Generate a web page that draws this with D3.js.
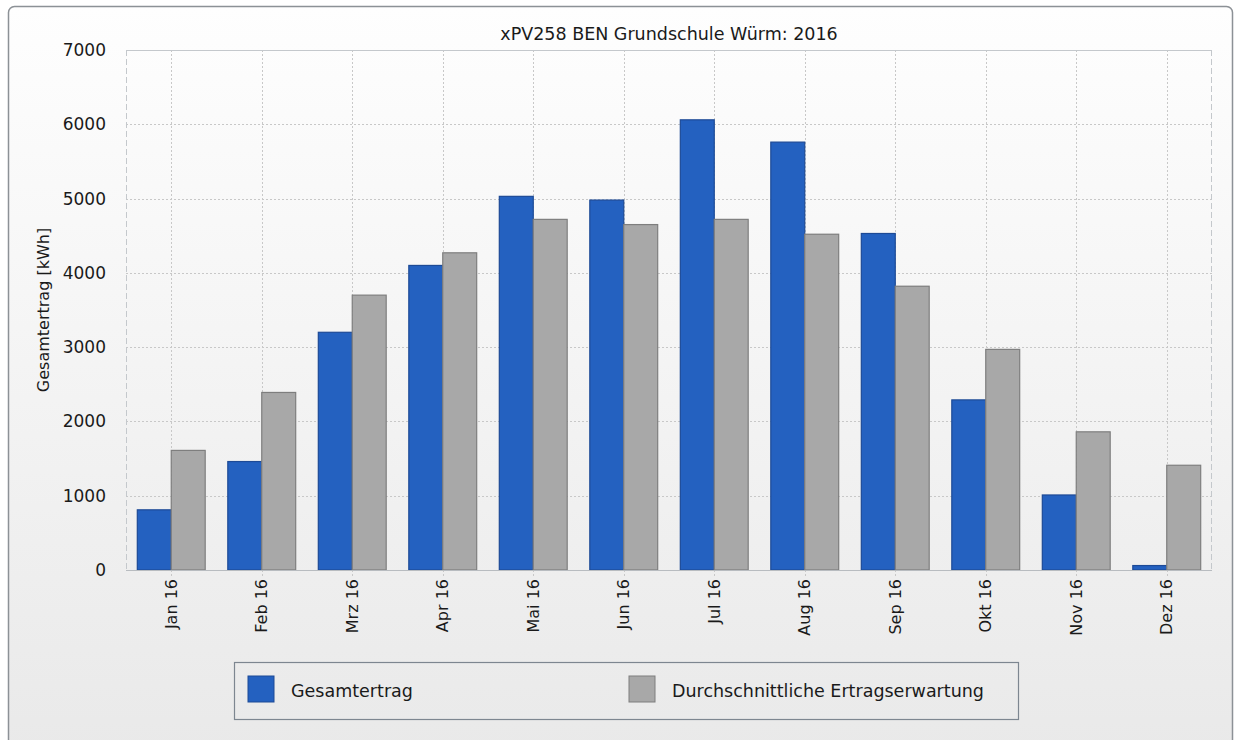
<!DOCTYPE html>
<html>
<head>
<meta charset="utf-8">
<title>xPV258 BEN Grundschule Würm: 2016</title>
<script src="https://d3js.org/d3.v7.min.js" charset="utf-8"></script>
<style type="text/css">
    body { margin: 0; background: #fff; }
    svg text { font-family: "DejaVu Sans", sans-serif; fill: #1a1a1a; }
    .grid line { stroke: #c8c8c8; stroke-dasharray: 1.5, 2.5; shape-rendering: crispEdges; }
    .axis path, .axis line { display: none; }
</style>
</head>
<body>
<script type="text/javascript">
    // monthly data
    var months = ["Jan 16", "Feb 16", "Mrz 16", "Apr 16", "Mai 16", "Jun 16",
                  "Jul 16", "Aug 16", "Sep 16", "Okt 16", "Nov 16", "Dez 16"];
    var gesamtertrag = [810, 1460, 3200, 4100, 5030, 4980, 6060, 5760, 4530, 2290, 1010, 60];
    var erwartung = [1610, 2390, 3700, 4270, 4720, 4650, 4720, 4520, 3820, 2970, 1860, 1410];
    var seriesNames = ["Gesamtertrag", "Durchschnittliche Ertragserwartung"];
    var yTicks = [0, 1000, 2000, 3000, 4000, 5000, 6000, 7000];

    var W = 1235, H = 740;
    var margin = { top: 50, right: 23, bottom: 170, left: 126 },
        width = W - margin.left - margin.right,
        height = H - margin.top - margin.bottom;

    var svg = d3.select("body").append("svg")
        .attr("width", W)
        .attr("height", H);

    var defs = svg.append("defs");
    var bg = defs.append("linearGradient")
        .attr("id", "bgGrad")
        .attr("x1", "0%").attr("x2", "0%")
        .attr("y1", "0%").attr("y2", "100%");
    bg.append("stop").attr("offset", "0%").attr("stop-color", "#fefefe");
    bg.append("stop").attr("offset", "100%").attr("stop-color", "#e9e9e9");

    // outer panel
    svg.append("rect")
        .attr("x", 8.5).attr("y", 6.5)
        .attr("width", 1224).attr("height", 750)
        .attr("rx", 6).attr("ry", 6)
        .style("fill", "url(#bgGrad)")
        .style("stroke", "#8c9196")
        .style("stroke-width", 1.5);

    var g = svg.append("g")
        .attr("transform", "translate(" + margin.left + "," + margin.top + ")");

    var x0 = d3.scaleBand()
        .domain(months)
        .range([0, width]);

    var x1 = d3.scaleBand()
        .domain([0, 1])
        .range([x0.bandwidth() * 0.125, x0.bandwidth() * 0.875]);

    var y = d3.scaleLinear()
        .domain([0, 7000])
        .range([height, 0]);

    // grid
    var grid = g.append("g").attr("class", "grid");
    grid.selectAll(".h")
        .data(yTicks.slice(1))
        .enter().append("line")
        .attr("x1", 0).attr("x2", width)
        .attr("y1", function (d) { return Math.round(y(d)) + 0.5; })
        .attr("y2", function (d) { return Math.round(y(d)) + 0.5; });
    grid.selectAll(".v")
        .data(months)
        .enter().append("line")
        .attr("y1", 0).attr("y2", height + 8)
        .attr("x1", function (d) { return Math.round(x0(d) + x0.bandwidth() / 2) + 0.5; })
        .attr("x2", function (d) { return Math.round(x0(d) + x0.bandwidth() / 2) + 0.5; });

    // frame of plot area
    g.append("line").attr("x1", 0).attr("x2", width).attr("y1", 0.5).attr("y2", 0.5)
        .style("stroke", "#c4c8cc");
    g.append("line").attr("x1", 0.5).attr("x2", 0.5).attr("y1", 0).attr("y2", height)
        .style("stroke", "#c4c8cc").style("stroke-dasharray", "6,3");
    g.append("line").attr("x1", width - 0.5).attr("x2", width - 0.5).attr("y1", 0).attr("y2", height)
        .style("stroke", "#c4c8cc").style("stroke-dasharray", "6,3");

    var colors = ["#2461c0", "#a8a8a8"];
    var strokes = ["#1d4a96", "#7e7e7e"];
    var series = [gesamtertrag, erwartung];

    series.forEach(function (vals, si) {
        g.append("g").selectAll("rect")
            .data(vals)
            .enter().append("rect")
            .attr("x", function (d, i) { return x0(months[i]) + x1(si); })
            .attr("y", function (d) { return y(d); })
            .attr("width", x1.bandwidth())
            .attr("height", function (d) { return height - y(d); })
            .style("fill", colors[si])
            .style("stroke", strokes[si])
            .style("stroke-width", 1.2);
    });

    // baseline
    g.append("line").attr("x1", 0).attr("x2", width)
        .attr("y1", height + 0.5).attr("y2", height + 0.5)
        .style("stroke", "#b8bcc0");

    // y axis
    var yAxis = d3.axisLeft(y).tickValues(yTicks).tickFormat(d3.format("d"))
        .tickSize(0).tickPadding(20);
    g.append("g").attr("class", "axis")
        .call(yAxis)
        .selectAll("text")
        .style("font-size", "17px")
        .style("font-family", "'DejaVu Sans', sans-serif")
        .attr("fill", "#1a1a1a");

    // x axis, rotated labels
    var xAxis = d3.axisBottom(x0).tickSize(0).tickPadding(0);
    g.append("g").attr("class", "axis")
        .attr("transform", "translate(0," + height + ")")
        .call(xAxis)
        .selectAll("text")
        .style("font-size", "16px")
        .style("font-family", "'DejaVu Sans', sans-serif")
        .attr("fill", "#1a1a1a")
        .attr("transform", "rotate(-90)")
        .attr("x", -9)
        .attr("y", 0)
        .attr("dy", "0.35em")
        .style("text-anchor", "end");

    // y axis title
    svg.append("text")
        .attr("transform", "translate(49," + (margin.top + height / 2) + ") rotate(-90)")
        .attr("text-anchor", "middle")
        .style("font-size", "16px")
        .text("Gesamtertrag [kWh]");

    // chart title
    svg.append("text")
        .attr("x", margin.left + width / 2)
        .attr("y", 40)
        .attr("text-anchor", "middle")
        .style("font-size", "17.5px")
        .text("xPV258 BEN Grundschule Würm: 2016");

    // legend
    var legend = svg.append("g").attr("transform", "translate(234,662)");
    legend.append("rect")
        .attr("x", 0.5).attr("y", 0.5)
        .attr("width", 784).attr("height", 57)
        .style("fill", "none")
        .style("stroke", "#7d8690")
        .style("stroke-width", 1.2);
    var legendX = [14, 395];
    seriesNames.forEach(function (name, i) {
        legend.append("rect")
            .attr("x", legendX[i]).attr("y", 14)
            .attr("width", 26).attr("height", 26)
            .style("fill", colors[i])
            .style("stroke", strokes[i]);
        legend.append("text")
            .attr("x", legendX[i] + 43).attr("y", 35)
            .style("font-size", "17.5px")
            .text(name);
    });
</script>
</body>
</html>
